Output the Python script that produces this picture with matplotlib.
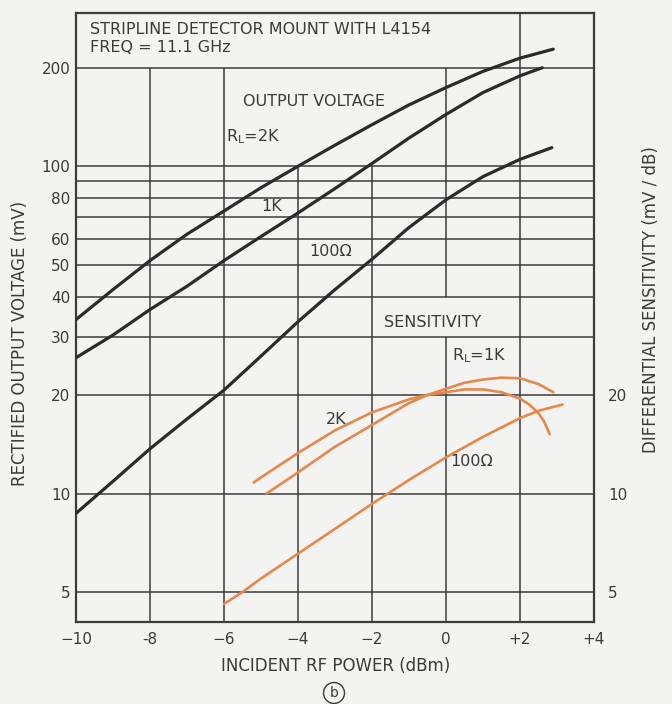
import matplotlib
matplotlib.use("Agg")
import matplotlib.pyplot as plt
import matplotlib.ticker as mticker

# ---------------- data ----------------
# Output voltage (mV) vs incident RF power (dBm)
p_2k = [-10, -9, -8, -7, -6, -5, -4, -3, -2, -1, 0, 1, 2, 2.9]
v_2k = [34, 42, 51.5, 62, 73, 86, 100, 116, 134, 154, 174, 195, 214, 228]

p_1k = [-10, -9, -8, -7, -6, -5, -4, -3, -2, -1, 0, 1, 2, 2.6]
v_1k = [26, 30.5, 36.5, 43, 51.5, 61, 72, 85.5, 102, 122, 144, 168, 189, 200]

p_100 = [-10, -9, -8, -7, -6, -5, -4, -3, -2, -1, 0, 1, 2, 2.86]
v_100 = [8.7, 10.9, 13.7, 16.9, 20.7, 26.3, 33.5, 42, 52, 65, 79, 93, 105, 114]

# Differential sensitivity (mV/dB)
ps_2k = [-5.2, -5, -4, -3, -2, -1, -0.5, 0, 0.5, 1, 1.5, 2, 2.25, 2.5, 2.65, 2.8]
s_2k = [10.8, 11.2, 13.3, 15.6, 17.7, 19.4, 20.0, 20.4, 20.8, 20.8, 20.4, 19.5, 18.7, 17.6, 16.6, 15.2]

ps_1k = [-4.85, -4, -3, -2, -1, -0.5, 0, 0.5, 1, 1.5, 2, 2.5, 2.9]
s_1k = [10.0, 11.6, 13.9, 16.2, 18.9, 20.0, 20.9, 21.8, 22.3, 22.6, 22.5, 21.6, 20.4]

ps_100 = [-6, -5.5, -5, -4, -3, -2, -1, 0, 1, 2, 2.5, 3.15]
s_100 = [4.6, 5.0, 5.5, 6.55, 7.8, 9.3, 11.0, 12.9, 14.9, 17.0, 17.9, 18.7]

x_ticks = [-10, -8, -6, -4, -2, 0, 2, 4]
x_tick_labels = ["\u221210", "-8", "\u22126", "\u22124", "\u22122", "0", "+2", "+4"]
y_grid = [5, 10, 20, 30, 40, 50, 60, 70, 80, 90, 100, 200]
y_left_ticks = [5, 10, 20, 30, 40, 50, 60, 80, 100, 200]
y_right_ticks = [5, 10, 20]

# ---------------- styling ----------------
BG = "#f3f3f1"
INK = "#2b2b2b"
GRID = "#3c3c3c"
ORANGE = "#e8874c"
TXT = "#3a3a3a"
W, H = 672, 704

fig = plt.figure(figsize=(W / 100, H / 100), dpi=100, facecolor=BG)
L, R, T, B = 76, 594, 13, 622
ax = fig.add_axes([L / W, 1 - B / H, (R - L) / W, (B - T) / H])
ax.set_facecolor(BG)
ax.set_yscale("log")
ax.set_xlim(-10, 4)
ax.set_ylim(4.05, 294)

# grid lines (some verticals interrupted as in the original)
for y in y_grid:
    ax.plot([-10, 4], [y, y], color=GRID, lw=1.1, zorder=1, solid_capstyle="butt")
v_segments = {
    -8: [(4.05, 200)],
    -6: [(4.05, 200)],
    -4: [(4.05, 100)],
    -2: [(4.05, 100)],
    0: [(4.05, 30), (40, 200)],
    2: [(4.05, 294)],
}
for xv, segs in v_segments.items():
    for y0, y1 in segs:
        ax.plot([xv, xv], [y0, y1], color=GRID, lw=1.1, zorder=1, solid_capstyle="butt")

for s in ax.spines.values():
    s.set_color(GRID)
    s.set_linewidth(1.6)

# curves
for p, v in [(p_2k, v_2k), (p_1k, v_1k), (p_100, v_100)]:
    ax.plot(p, v, color=INK, lw=2.3, zorder=3, solid_capstyle="round", solid_joinstyle="round")
for p, s in [(ps_2k, s_2k), (ps_1k, s_1k), (ps_100, s_100)]:
    ax.plot(p, s, color=ORANGE, lw=1.9, zorder=3, solid_capstyle="round", solid_joinstyle="round")

# ticks
ax.set_xticks(x_ticks)
ax.set_xticklabels(x_tick_labels)
ax.yaxis.set_major_locator(mticker.FixedLocator(y_left_ticks))
ax.yaxis.set_major_formatter(mticker.FixedFormatter([str(t) for t in y_left_ticks]))
ax.yaxis.set_minor_locator(mticker.NullLocator())
ax.tick_params(axis="both", length=0, labelsize=11, colors=TXT)
ax.tick_params(axis="y", pad=4)
ax.tick_params(axis="x", pad=7)

ax2 = ax.twinx()
ax2.set_yscale("log")
ax2.set_ylim(ax.get_ylim())
ax2.yaxis.set_major_locator(mticker.FixedLocator(y_right_ticks))
ax2.yaxis.set_major_formatter(mticker.FixedFormatter([str(t) for t in y_right_ticks]))
ax2.yaxis.set_minor_locator(mticker.NullLocator())
ax2.tick_params(axis="y", length=0, labelsize=11, colors=TXT, pad=10)
for s in ax2.spines.values():
    s.set_visible(False)

# axis labels
ax.set_xlabel("INCIDENT RF POWER (dBm)", fontsize=12, color=TXT)
ax.xaxis.set_label_coords((336 - L) / (R - L), (B - 657) / (B - T))
ax.set_ylabel("RECTIFIED OUTPUT VOLTAGE (mV)", fontsize=12, color=TXT)
ax.yaxis.set_label_coords((29 - L) / (R - L), (B - 343) / (B - T))
ax2.set_ylabel("DIFFERENTIAL SENSITIVITY (mV / dB)", fontsize=12, color=TXT)
ax2.yaxis.set_label_coords((642 - L) / (R - L), (B - 300) / (B - T))

fig.text(90 / W, 1 - 29 / H, "STRIPLINE DETECTOR MOUNT WITH L4154", fontsize=11.5,
         color=TXT, va="center", ha="left")
fig.text(90 / W, 1 - 48 / H, "FREQ = 11.1 GHz", fontsize=11.5,
         color=TXT, va="center", ha="left")

def lab(x, y, s):
    fig.text(x / W, 1 - y / H, s, fontsize=11.5, color=TXT, va="center", ha="left")

lab(243, 102, "OUTPUT VOLTAGE")
lab(226, 137, r"R$_\mathregular{L}$=2K")
lab(261, 207, "1K")
lab(309, 252, "100\u03a9")
lab(384, 323, "SENSITIVITY")
lab(452, 356, r"R$_\mathregular{L}$=1K")
lab(326, 420, "2K")
lab(450, 461, "100\u03a9")

fig.text(334 / W, 1 - 693 / H, "b", fontsize=10, color=TXT, ha="center", va="center",
         bbox=dict(boxstyle="circle,pad=0.25", fc="none", ec=TXT, lw=1.0))

fig.savefig("out.png", dpi=100, facecolor=BG)
